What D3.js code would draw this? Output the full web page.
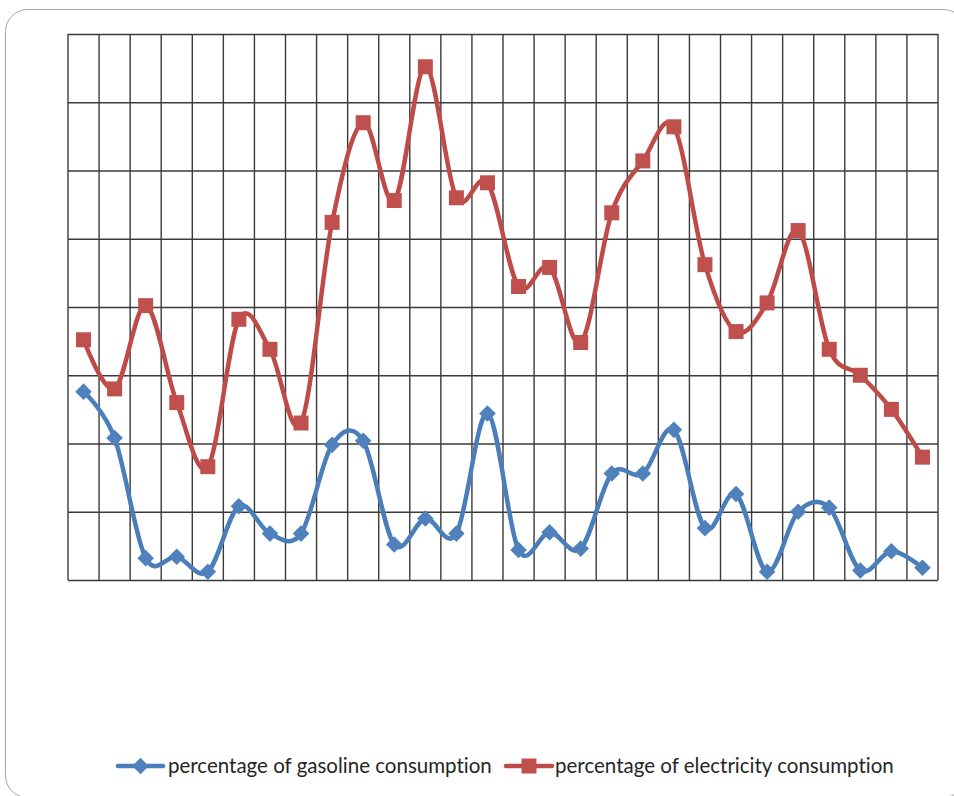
<!DOCTYPE html>
<html>
<head>
<meta charset="utf-8">
<script src="https://cdn.jsdelivr.net/npm/d3@7"></script>
<style>
  html, body { margin: 0; padding: 0; background: #fff; }
  svg { display: block; }
  text { font-variant-ligatures: none; font-feature-settings: "liga" 0, "clig" 0; }
</style>
</head>
<body>
<svg id="chart" width="954" height="796"></svg>
<script>
// Periods along the horizontal axis (28 consecutive readings)
const periods = d3.range(1, 29);

// Share of gasoline consumption per period (%)
const gasoline = [13.8, 10.4, 1.6, 1.7, 0.6, 5.4, 3.4, 3.4, 9.9, 10.2,
                  2.6, 4.5, 3.4, 12.2, 2.2, 3.5, 2.3, 7.8, 7.8, 11.0,
                  3.8, 6.3, 0.6, 5.0, 5.3, 0.7, 2.1, 0.9];

// Share of electricity consumption per period (%)
const electricity = [17.6, 14.0, 20.1, 13.0, 8.3, 19.1, 16.9, 11.5, 26.2, 33.5,
                     27.8, 37.6, 28.0, 29.1, 21.5, 22.9, 17.4, 26.9, 30.7, 33.2,
                     23.1, 18.2, 20.3, 25.6, 16.9, 15.0, 12.5, 9.0];

// Value grid lines
const yTicks = [0, 5, 10, 15, 20, 25, 30, 35, 40];

const seriesNames = ["percentage of gasoline consumption", "percentage of electricity consumption"];

const svg = d3.select("#chart");

// Outer rounded frame
svg.append("rect")
  .attr("x", 5.5).attr("y", 9.5)
  .attr("width", 960).attr("height", 788)
  .attr("rx", 22).attr("ry", 22)
  .attr("fill", "#fff")
  .attr("stroke", "#a6a6a6")
  .attr("stroke-width", 1);

const plot = { left: 68, top: 34, right: 938, bottom: 580 };

const x = d3.scaleBand()
  .domain(periods)
  .range([plot.left, plot.right])
  .paddingInner(0).paddingOuter(0);

const y = d3.scaleLinear()
  .domain([0, 40])
  .range([plot.bottom, plot.top]);

const gridColor = "#3a3a3a";

// Horizontal grid from the value axis
const yAxis = d3.axisLeft(y)
  .tickValues(yTicks)
  .tickSize(-(plot.right - plot.left))
  .tickFormat("");
const gy = svg.append("g")
  .attr("transform", `translate(${plot.left},0)`)
  .call(yAxis);
gy.select(".domain").remove();
gy.selectAll(".tick line")
  .attr("stroke", gridColor)
  .attr("stroke-width", 1.4);

// Vertical grid at category boundaries
const bounds = periods.map(p => x(p)).concat([plot.right]);
svg.append("g")
  .selectAll("line")
  .data(bounds)
  .join("line")
  .attr("x1", d => d).attr("x2", d => d)
  .attr("y1", plot.top).attr("y2", plot.bottom)
  .attr("stroke", gridColor)
  .attr("stroke-width", 1.4);

const cx = p => x(p) + x.bandwidth() / 2;

const line = d3.line()
  .x((d, i) => cx(periods[i]))
  .y(d => y(d))
  .curve(d3.curveCardinal.tension(0));

const blueLine = "#4a7ebb", blueFill = "#4f81bd";
const redLine = "#be4b48", redFill = "#c0504d";

// Gasoline series
svg.append("path")
  .datum(gasoline)
  .attr("d", line)
  .attr("fill", "none")
  .attr("stroke", blueLine)
  .attr("stroke-width", 4.5)
  .attr("stroke-linejoin", "round")
  .attr("stroke-linecap", "round");

// Electricity series
svg.append("path")
  .datum(electricity)
  .attr("d", line)
  .attr("fill", "none")
  .attr("stroke", redLine)
  .attr("stroke-width", 4.5)
  .attr("stroke-linejoin", "round")
  .attr("stroke-linecap", "round");

const diamond = d3.symbol().type(d3.symbolDiamond2).size(175);
const square = d3.symbol().type(d3.symbolSquare).size(225);

svg.append("g")
  .selectAll("path")
  .data(gasoline)
  .join("path")
  .attr("d", diamond)
  .attr("transform", (d, i) => `translate(${cx(periods[i])},${y(d)})`)
  .attr("fill", blueFill);

svg.append("g")
  .selectAll("path")
  .data(electricity)
  .join("path")
  .attr("d", square)
  .attr("transform", (d, i) => `translate(${cx(periods[i])},${y(d)})`)
  .attr("fill", redFill);

// Legend
const legendY = 766;
const legendItems = [
  { name: seriesNames[0], x0: 118, x1: 163, tx: 168, tw: 324, stroke: blueLine, fill: blueFill, sym: diamond },
  { name: seriesNames[1], x0: 506, x1: 552, tx: 555, tw: 339, stroke: redLine, fill: redFill, sym: square }
];
legendItems.forEach(it => {
  const g = svg.append("g");
  g.append("line")
    .attr("x1", it.x0).attr("x2", it.x1)
    .attr("y1", legendY).attr("y2", legendY)
    .attr("stroke", it.stroke)
    .attr("stroke-width", 4.5)
    .attr("stroke-linecap", "round");
  g.append("path")
    .attr("d", it.sym)
    .attr("transform", `translate(${(it.x0 + it.x1) / 2},${legendY})`)
    .attr("fill", it.fill);
  const t = g.append("text")
    .attr("x", it.tx)
    .attr("y", legendY + 7)
    .attr("font-family", "Lato, 'Open Sans', sans-serif")
    .attr("font-size", 20)
    .attr("fill", "#262626")
    .text(it.name);
  const w = t.node().getComputedTextLength();
  t.attr("font-size", 20 * it.tw / w);
});
</script>
</body>
</html>
